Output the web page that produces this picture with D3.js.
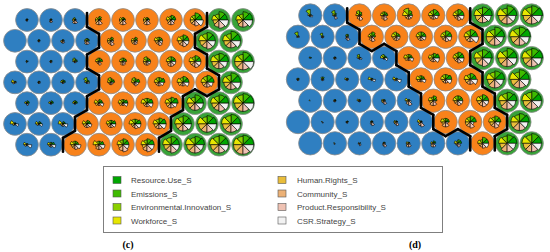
<!DOCTYPE html>
<html>
<head>
<meta charset="utf-8">
<script src="https://d3js.org/d3.v7.min.js"></script>
<style>
  body { margin: 0; background: #fff; }
</style>
</head>
<body>
<div id="somviz"></div>
<script>
// legend variables, in segment order (counter-clockwise from east)
var varNames = ["Resource.Use_S", "Emissions_S", "Environmental.Innovation_S", "Workforce_S",
                "Human.Rights_S", "Community_S", "Product.Responsibility_S", "CSR.Strategy_S"];
var segColors = ["#00A600", "#3EBB00", "#8BD000", "#E6E600", "#E9BD3A", "#ECB176", "#EFC2B3", "#F2F2F2"];

// cluster of each unit, one string per row (top row first)
var clustersC = ["BBBOOOOOGG", "BBBBOOOOGG", "BBBOOOOOGG", "BBBBOOOOOG", "BBBOOOOGGG", "BBBOOOOGGG", "BBOOOOGGGG"];
var clustersD = ["BBOOOOOGGG", "BBBOOOOOGG", "BBBBOOOGGG", "BBBBBOOOGG", "BBBBBOOOGG", "BBBBBBOOOG", "BBBBBBBOGG"];
var clusterColors = { B: "#2f7fc1", O: "#f8821a", G: "#38a338" };

// codebook values (tenths of max) per unit, rows top to bottom
var codesC = [
  [[1,1,1,1,1,1,1,0],[1,1,1,1,1,2,2,0],[1,1,2,2,2,3,3,1],[2,3,2,3,3,4,4,1],[2,2,2,3,3,4,4,2],[2,2,2,3,3,4,4,2],[4,4,3,4,3,4,4,3],[6,6,4,4,4,4,5,7],[7,7,5,6,5,6,7,8],[8,7,5,6,5,6,6,8]],
  [[0,0,0,0,0,0,0,0],[1,1,1,1,1,1,1,0],[1,1,1,1,2,2,2,1],[2,2,2,2,2,3,3,1],[2,3,2,3,3,3,4,2],[2,3,2,3,3,3,3,2],[3,3,3,4,3,3,4,3],[5,5,4,5,4,4,5,5],[7,7,6,7,6,6,7,7],[8,8,6,7,6,6,6,8]],
  [[1,0,1,1,0,1,0,0],[1,1,1,1,1,1,1,0],[2,2,3,2,1,1,1,1],[3,3,3,3,2,2,3,1],[3,3,3,3,2,3,3,2],[3,3,4,3,3,3,3,3],[4,4,4,4,3,4,4,4],[5,5,4,5,4,4,5,5],[8,7,6,7,6,6,6,7],[8,8,6,7,7,7,7,9]],
  [[1,1,1,3,2,1,0,1],[1,1,1,1,1,1,1,1],[2,2,2,2,1,1,1,1],[2,2,4,2,1,1,1,2],[3,3,4,3,2,2,2,2],[4,3,4,3,2,2,3,3],[5,4,4,4,3,3,3,4],[5,5,4,5,4,3,3,5],[6,6,5,5,4,4,4,5],[8,8,6,7,6,6,6,8]],
  [[2,2,1,2,1,1,2,1],[2,2,1,2,1,1,1,1],[2,2,2,2,1,1,1,1],[3,3,2,4,3,2,2,4],[4,3,3,4,3,2,2,4],[5,4,4,5,3,3,3,5],[6,5,4,5,4,4,4,5],[7,7,5,7,6,6,6,7],[8,7,6,7,6,6,7,8],[9,8,7,8,7,7,7,9]],
  [[1,1,1,4,2,1,1,3],[2,2,1,3,2,1,1,3],[2,2,1,4,2,2,2,4],[3,3,2,4,3,3,3,4],[4,3,3,4,3,3,3,4],[5,4,4,5,3,3,4,5],[6,5,4,5,4,4,4,6],[7,7,6,7,6,6,6,7],[8,7,6,8,7,7,7,8],[8,8,7,8,7,7,7,8]],
  [[1,1,1,3,2,1,1,4],[3,2,2,3,2,2,2,4],[3,3,3,4,3,3,4,5],[4,3,3,5,3,4,4,5],[5,5,4,5,4,5,6,5],[6,5,4,5,4,5,6,6],[7,7,6,7,6,6,7,7],[8,7,6,8,7,7,7,7],[8,8,7,8,7,7,7,8],[9,8,7,8,8,8,8,9]]
];
var codesD = [
  [[1,1,5,2,1,1,1,2],[1,2,4,2,1,1,3,1],[2,3,4,3,2,3,4,1],[3,3,3,3,2,3,4,2],[3,4,6,5,3,3,3,3],[5,5,4,4,3,3,3,4],[5,5,4,4,3,3,4,5],[8,7,6,7,6,6,6,7],[8,8,6,8,7,7,7,7],[9,8,7,8,7,7,7,8]],
  [[1,1,4,1,1,0,0,1],[1,1,3,1,1,1,1,1],[1,2,2,1,1,2,3,1],[3,4,3,3,2,3,4,2],[3,3,4,4,3,3,3,3],[4,4,4,4,3,3,3,4],[5,5,4,4,3,3,4,5],[6,6,5,5,4,4,4,7],[8,8,6,7,7,7,7,7],[9,8,7,8,7,7,7,8]],
  [[1,0,1,1,0,0,0,0],[1,1,1,1,1,1,1,1],[1,1,3,2,1,1,1,2],[2,2,3,3,1,1,1,3],[3,3,3,4,3,2,2,4],[5,4,3,4,3,3,3,5],[5,5,4,4,3,3,4,5],[8,7,6,7,6,6,7,7],[8,8,6,8,7,7,7,8],[9,8,7,8,7,7,7,8]],
  [[1,1,1,1,1,1,1,0],[1,2,2,1,1,1,1,1],[1,1,1,2,1,1,1,1],[1,1,1,3,1,1,1,3],[1,1,1,3,2,1,1,4],[3,3,3,4,3,2,2,4],[5,4,4,4,3,3,3,5],[5,5,4,5,4,4,4,6],[8,7,6,7,6,7,7,7],[8,8,6,8,7,7,7,8]],
  [[0,0,0,1,0,0,0,0],[1,1,1,1,1,1,1,0],[1,1,1,2,1,1,1,1],[1,1,1,2,2,2,3,1],[1,1,1,3,2,3,4,2],[3,4,3,4,3,4,4,2],[4,4,4,4,3,3,4,4],[5,5,4,5,4,4,5,5],[8,7,6,7,6,7,7,7],[8,8,7,8,7,7,7,8]],
  [[0,0,0,0,0,0,0,0],[0,0,0,1,0,0,1,0],[1,1,0,1,1,1,1,0],[1,1,1,1,1,2,3,1],[1,1,1,2,2,2,3,1],[1,1,1,3,2,3,4,1],[3,3,3,4,3,4,4,2],[5,5,4,4,4,4,5,3],[5,5,4,5,4,4,5,4],[8,7,6,7,7,7,7,7]],
  [[0,0,0,0,0,0,0,0],[0,0,0,1,0,1,0,0],[1,0,0,1,1,1,2,0],[1,1,1,1,1,2,3,1],[1,1,1,2,2,3,3,1],[2,2,1,2,2,3,3,1],[3,3,2,3,2,2,3,2],[5,5,3,4,3,3,4,5],[8,7,6,7,6,7,7,7],[8,8,7,8,7,7,7,8]]
];

var svg = d3.select("#somviz")
      .append("svg")
      .attr("width", 550)
      .attr("height", 252)
      .style("font-family", "Arial, 'Liberation Sans', sans-serif");

function drawSom(clusters, codes, x0, y0, dx) {
      var dy = dx * Math.sqrt(3) / 2;
      var xScale = d3.scaleLinear().domain([0, 9.5]).range([x0, x0 + 9.5 * dx]);
      var yScale = d3.scaleLinear().domain([0, 6]).range([y0, y0 + 6 * dy]);
      var rCell = dx * 0.475;
      var rScale = d3.scaleLinear().domain([0, 10]).range([0, rCell * 1.05]);

      // flatten units; even rows are shifted half a step right
      var units = [];
      clusters.forEach(function (row, r) {
            row.split("").forEach(function (cl, c) {
                  var pos = c + (r % 2 === 0 ? 0.5 : 0);
                  units.push({ r: r, c: c, cl: cl, x: xScale(pos), y: yScale(r), vals: codes[r][c] });
            });
      });

      var g = svg.append("g");

      g.selectAll("circle.unit")
            .data(units)
            .enter()
            .append("circle")
            .attr("class", "unit")
            .attr("cx", function (d) { return d.x; })
            .attr("cy", function (d) { return d.y; })
            .attr("r", rCell)
            .attr("fill", function (d) { return clusterColors[d.cl]; })
            .attr("stroke", "#8c8c8c")
            .attr("stroke-width", 0.8);

      // segments: equal angles, radius ~ value
      var arc = d3.arc().innerRadius(0);
      units.forEach(function (u) {
            g.append("g")
                  .attr("transform", "translate(" + u.x + "," + u.y + ")")
                  .selectAll("path")
                  .data(u.vals)
                  .enter()
                  .append("path")
                  .attr("d", function (v, i) {
                        return arc({ outerRadius: rScale(v),
                                     startAngle: Math.PI / 2 - (i + 1) * Math.PI / 4,
                                     endAngle: Math.PI / 2 - i * Math.PI / 4 });
                  })
                  .attr("fill", function (v, i) { return segColors[i]; })
                  .attr("stroke", "#000")
                  .attr("stroke-width", 0.6);
      });

      // cluster boundaries along hexagon edges
      var R = dx / Math.sqrt(3);
      var edges = [];
      units.forEach(function (u) {
            for (var k = 0; k < 6; k++) {
                  var a = -k * Math.PI / 3;
                  var nx = u.x + dx * Math.cos(a), ny = u.y + dx * Math.sin(a);
                  var nb = units.find(function (w) { return Math.abs(w.x - nx) < dx * 0.3 && Math.abs(w.y - ny) < dy * 0.3; });
                  if (nb && nb.cl !== u.cl && (nb.r * 10 + nb.c) > (u.r * 10 + u.c)) {
                        var a1 = a - Math.PI / 6, a2 = a + Math.PI / 6;
                        edges.push([[u.x + R * Math.cos(a1), u.y + R * Math.sin(a1)],
                                    [u.x + R * Math.cos(a2), u.y + R * Math.sin(a2)]]);
                  }
            }
      });
      g.selectAll("path.edge")
            .data(edges)
            .enter()
            .append("path")
            .attr("class", "edge")
            .attr("d", d3.line())
            .attr("stroke", "#000")
            .attr("stroke-width", 2.6)
            .attr("stroke-linecap", "round");
}

drawSom(clustersC, codesC, 15, 20, 24);
drawSom(clustersD, codesD, 298, 15.5, 24.6);

// Legend
var leg = svg.append("g");
leg.append("rect")
      .attr("x", 103.5).attr("y", 166.5)
      .attr("width", 339).attr("height", 66)
      .attr("fill", "#fff")
      .attr("stroke", "#7f7f7f")
      .attr("stroke-width", 1);

var legItems = leg.selectAll("g.item")
      .data(varNames)
      .enter()
      .append("g")
      .attr("class", "item")
      .attr("transform", function (d, i) {
            var col = Math.floor(i / 4), row = i % 4;
            return "translate(" + (col === 0 ? 113 : 278) + "," + (180 + row * 13.5) + ")";
      });
legItems.append("rect")
      .attr("x", 0).attr("y", -3.5)
      .attr("width", 8).attr("height", 7)
      .attr("fill", function (d, i) { return segColors[i]; })
      .attr("stroke", "#555")
      .attr("stroke-width", 0.6);
legItems.append("text")
      .attr("x", function (d, i) { return i < 4 ? 18 : 19; })
      .attr("y", 3)
      .attr("font-size", 8)
      .attr("fill", "#444")
      .text(function (d) { return d; });

// panel labels
svg.append("text").attr("x", 128).attr("y", 248).attr("text-anchor", "middle")
      .attr("font-family", "'Liberation Serif', 'Times New Roman', serif").attr("font-size", 10).attr("font-weight", "bold")
      .text("(c)");
svg.append("text").attr("x", 415).attr("y", 248).attr("text-anchor", "middle")
      .attr("font-family", "'Liberation Serif', 'Times New Roman', serif").attr("font-size", 10).attr("font-weight", "bold")
      .text("(d)");
</script>
</body>
</html>
